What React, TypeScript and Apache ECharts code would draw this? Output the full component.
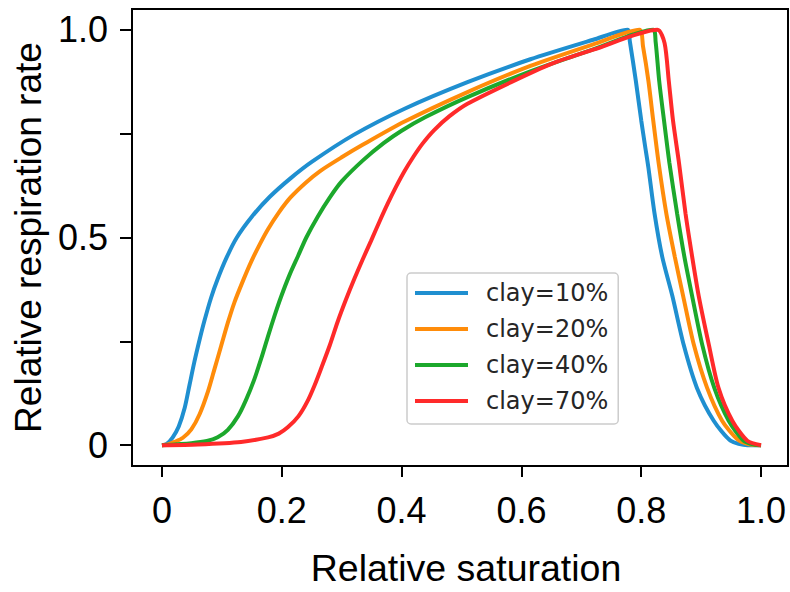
import React, { useEffect, useRef } from "react";
import * as echarts from "echarts";

const seriesNames = ["clay=10%", "clay=20%", "clay=40%", "clay=70%"];
const seriesColors = ["#1f8fd0", "#ff8c0a", "#1ca82c", "#ff2a2a"];

const clay10: number[][] = [
  [0, 0], [0.008, 0.003], [0.018, 0.019], [0.028, 0.045], [0.038, 0.09], [0.046, 0.145],
  [0.054, 0.2], [0.063, 0.255], [0.071, 0.3], [0.082, 0.355], [0.093, 0.4], [0.108, 0.452],
  [0.125, 0.5], [0.15, 0.55], [0.18, 0.598], [0.215, 0.643], [0.25, 0.682], [0.32, 0.747],
  [0.405, 0.81], [0.51, 0.874], [0.615, 0.929], [0.72, 0.976], [0.777, 1.0],
  [0.781, 0.972], [0.791, 0.877], [0.8, 0.782], [0.807, 0.715], [0.812, 0.668], [0.822, 0.56],
  [0.835, 0.454], [0.852, 0.359], [0.871, 0.241], [0.893, 0.138], [0.921, 0.059], [0.949, 0.011],
  [0.977, 0.0], [1.0, 0],
];

const clay20: number[][] = [
  [0, 0], [0.01, 0.002], [0.021, 0.008], [0.035, 0.018], [0.049, 0.038], [0.063, 0.075],
  [0.077, 0.13], [0.088, 0.185], [0.099, 0.24], [0.11, 0.295], [0.121, 0.344], [0.135, 0.395],
  [0.149, 0.442], [0.163, 0.483], [0.177, 0.52], [0.195, 0.56], [0.215, 0.597], [0.24, 0.632],
  [0.264, 0.66], [0.3, 0.693], [0.335, 0.723], [0.405, 0.779], [0.51, 0.85], [0.615, 0.913],
  [0.72, 0.965], [0.797, 1.0],
  [0.803, 0.96], [0.812, 0.877], [0.82, 0.782], [0.829, 0.68], [0.842, 0.557], [0.856, 0.454],
  [0.87, 0.359], [0.888, 0.241], [0.91, 0.138], [0.935, 0.059], [0.96, 0.015], [0.98, 0.002],
  [1.0, 0],
];

const clay40: number[][] = [
  [0, 0], [0.049, 0.005], [0.075, 0.01], [0.093, 0.019], [0.11, 0.037], [0.127, 0.07],
  [0.14, 0.108], [0.154, 0.158], [0.166, 0.21], [0.177, 0.262], [0.188, 0.312], [0.199, 0.358],
  [0.213, 0.41], [0.227, 0.455], [0.241, 0.5], [0.26, 0.55], [0.28, 0.596], [0.3, 0.635],
  [0.335, 0.685], [0.37, 0.727], [0.4, 0.757], [0.44, 0.79], [0.51, 0.838], [0.615, 0.9],
  [0.72, 0.953], [0.82, 1.0],
  [0.824, 0.972], [0.83, 0.877], [0.838, 0.782], [0.847, 0.68], [0.86, 0.557], [0.872, 0.454],
  [0.885, 0.359], [0.902, 0.241], [0.922, 0.138], [0.946, 0.059], [0.971, 0.011], [0.99, 0.001],
  [1.0, 0],
];

const clay70: number[][] = [
  [0, 0], [0.06, 0.002], [0.132, 0.008], [0.177, 0.019], [0.195, 0.028], [0.21, 0.043],
  [0.228, 0.07], [0.243, 0.106], [0.255, 0.145], [0.266, 0.186], [0.28, 0.24], [0.293, 0.296],
  [0.307, 0.35], [0.321, 0.4], [0.335, 0.447], [0.349, 0.492], [0.363, 0.538], [0.377, 0.582],
  [0.39, 0.62], [0.405, 0.66], [0.42, 0.695], [0.435, 0.726], [0.454, 0.758], [0.48, 0.792],
  [0.51, 0.822], [0.58, 0.872], [0.65, 0.918], [0.72, 0.952], [0.827, 1.0],
  [0.839, 0.968], [0.846, 0.877], [0.853, 0.782], [0.863, 0.68], [0.874, 0.557], [0.885, 0.454],
  [0.896, 0.359], [0.913, 0.241], [0.929, 0.138], [0.952, 0.059], [0.977, 0.011], [1.0, 0],
];

const seriesData = [clay10, clay20, clay40, clay70];

const xTicks = [0, 0.2, 0.4, 0.6, 0.8, 1.0];
const yTicks = [0, 0.25, 0.5, 0.75, 1.0];
const yLabels = [0, 0.5, 1.0];

const fmt = (v: number) => (Math.abs(v) < 1e-9 ? "0" : v.toFixed(1));

export default function App() {
  const ref = useRef<HTMLDivElement>(null);
  useEffect(() => {
    if (!ref.current) return;
    const chart = echarts.init(ref.current, undefined, { renderer: "svg" });
    const labelFont = "'Liberation Sans', Arial, sans-serif";
    chart.setOption({
      animation: false,
      backgroundColor: "#ffffff",
      grid: {
        left: 132,
        top: 9,
        width: 656,
        height: 463.5,
        show: true,
        borderColor: "#000",
        borderWidth: 2,
        backgroundColor: "transparent",
      },
      legend: {
        orient: "vertical",
        left: 407,
        top: 273,
        data: seriesNames.map((n) => ({ name: n, icon: "rect" })),
        itemWidth: 53,
        itemHeight: 4,
        itemGap: 12,
        padding: [8, 10, 11, 8],
        borderColor: "#cccccc",
        borderWidth: 1.5,
        borderRadius: 4,
        backgroundColor: "#ffffff",
        textStyle: {
          fontFamily: "'DejaVu Sans', sans-serif",
          fontSize: 24,
          lineHeight: 24,
          color: "#262626",
          padding: [0, 0, 0, 13],
        },
      },
      xAxis: {
        type: "value",
        min: -0.05,
        max: 1.045,
        name: "Relative saturation",
        nameLocation: "middle",
        nameGap: 83,
        nameTextStyle: {
          fontFamily: labelFont,
          fontSize: 37.5,
          color: "#000",
          padding: [0, 0, 0, 12],
        },
        axisLine: { show: false, onZero: false },
        splitLine: { show: false },
        axisTick: {
          show: true,
          inside: false,
          customValues: xTicks,
          length: 11,
          lineStyle: { color: "#000", width: 2 },
        },
        axisLabel: {
          customValues: xTicks,
          formatter: fmt,
          margin: 26,
          fontFamily: labelFont,
          fontSize: 36,
          color: "#000",
        },
      },
      yAxis: {
        type: "value",
        min: -0.05,
        max: 1.05,
        name: "Relative respiration rate",
        nameLocation: "middle",
        nameRotate: 90,
        nameGap: 84,
        nameTextStyle: { fontFamily: labelFont, fontSize: 37, color: "#000" },
        axisLine: { show: false, onZero: false },
        splitLine: { show: false },
        axisTick: {
          show: true,
          inside: false,
          customValues: yTicks,
          length: 12,
          lineStyle: { color: "#000", width: 2 },
        },
        axisLabel: {
          customValues: yLabels,
          formatter: fmt,
          margin: 24,
          fontFamily: labelFont,
          fontSize: 36,
          color: "#000",
        },
      },
      series: seriesNames.map((name, i) => ({
        name,
        type: "line",
        data: seriesData[i],
        showSymbol: false,
        symbol: "none",
        smooth: 0.25,
        lineStyle: { color: seriesColors[i], width: 4 },
        itemStyle: { color: seriesColors[i] },
        z: 2 + i,
      })),
    });
    return () => chart.dispose();
  }, []);
  return (
    <div
      ref={ref}
      style={{ position: "fixed", left: 0, top: 0, width: 790, height: 592 }}
    />
  );
}
